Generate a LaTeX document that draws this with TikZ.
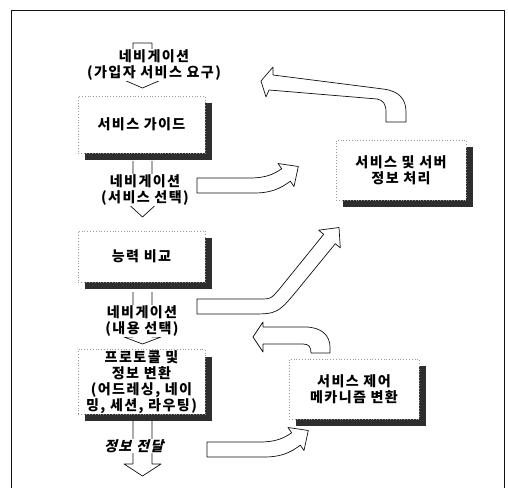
\documentclass[tikz,border=0pt]{standalone}
\usepackage{fontspec}
\newfontfamily\kr{Noto Sans CJK KR}[LetterSpace=10]
\usetikzlibrary{shadows}
\definecolor{ink}{HTML}{111111}
\definecolor{shade}{HTML}{2E2E2E}
\definecolor{dots}{HTML}{9A9A9A}

\begin{document}
\begin{tikzpicture}[x=0.03cm,y=-0.03cm,line join=round,
      blockarr/.style={draw=ink,fill=white,line width=0.6pt},
      box/.style={draw=dots,dotted,fill=white,align=center,
        font=\kr\bfseries\fontsize{12}{13.5}\selectfont,
        drop shadow={shadow xshift=0.21cm,shadow yshift=-0.21cm,
          fill=shade,opacity=1}},
      navi/.style={fill=white,inner sep=0.5pt,align=center,
        font=\kr\bfseries\fontsize{12}{14}\selectfont}]
    \useasboundingbox (0,0) rectangle (508,488);
    % frame
    \draw[ink,line width=0.7pt] (11,488) -- (11,10) -- (504,10) -- (504,488);

    % arrows to the right
    \foreach \dx/\dy in {0/0,10/264}{
      \begin{scope}[shift={(\dx,\dy)}]
        \draw[blockarr] (197,178) -- (250,178)
          .. controls (266,178) and (274,174) .. (281.7,168.8)
          -- (278,163.5) -- (298.3,166.5) -- (294,186.5) -- (290.3,181.2)
          .. controls (280,189) and (270,193) .. (255,193) -- (197,193) -- cycle;
      \end{scope}
    }
    \draw[blockarr] (197,299) -- (258,299) .. controls (270.8,299) .. (279,289.5)
      -- (323.7,234.3) -- (318.7,230.2) -- (339,227.5) -- (340.3,247.8)
      -- (335.3,243.7) -- (300.6,286.1) .. controls (277.8,314) .. (250,314)
      -- (197,314) -- cycle;

    % arrows back to the left
    \draw[blockarr] (273,75) -- (383,89) .. controls (400,91) and (406,100) .. (406,112)
      -- (406,122) -- (386,122) -- (386,112) .. controls (386,104) and (383,100) .. (377,99)
      -- (269,90) -- (266,97) -- (261,81) -- (273,67) -- cycle;
    \draw[blockarr] (263,327) -- (305,327) .. controls (322,327) and (330,336) .. (330,347)
      -- (330,353) -- (311,353) .. controls (311,347) and (309,344) .. (303,344)
      -- (263,344) -- (263,352) -- (253,337) -- (263,322) -- cycle;

    % arrows down
    \draw[blockarr] (133,43) -- (152,43) -- (152,80) -- (161,80) -- (142.5,88)
      -- (124,80) -- (133,80) -- cycle;
    \foreach \t/\b/\p in {161/200/217,292/337/344,421/464/476}{
      \draw[blockarr] (133,\t) -- (133,\b) -- (124,\b) -- (142.5,\p)
        -- (161,\b) -- (152,\b) -- (152,\t);
    }

    % labels on the arrows
    \node[navi] (navsub) at (154,65) {네비게이션\\(가입자 서비스 요구)};
    \node[navi] (navsel) at (145,190) {네비게이션\\(서비스 선택)};
    \node[navi] (navcnt) at (142,321) {네비게이션\\(내용 선택)};
    \node[navi,shift={(135,446)},xslant=0.25,transform shape] (deliver) at (0,0) {정보 전달};

    % boxes
    \node[box,minimum width=3.81cm,minimum height=1.71cm] (guide) at (141.5,124.5) {서비스 가이드};
    \node[box,minimum width=3.81cm,minimum height=1.53cm] (compare) at (141.5,256.5) {능력 비교};
    \node[box,minimum width=3.81cm,minimum height=1.8cm,inner sep=1pt] (proto) at (141.5,382)
      {프로토콜 및\\정보 변환\\(어드레싱, 네이\\밍, 세션, 라우팅)};
    \node[box,minimum width=3.9cm,minimum height=1.8cm] (server) at (401,170)
      {서비스 및 서버\\정보 처리};
    \node[box,minimum width=3.9cm,minimum height=1.8cm] (control) at (354,389)
      {서비스 제어\\메카니즘 변환};
  \end{tikzpicture}
\end{document}
